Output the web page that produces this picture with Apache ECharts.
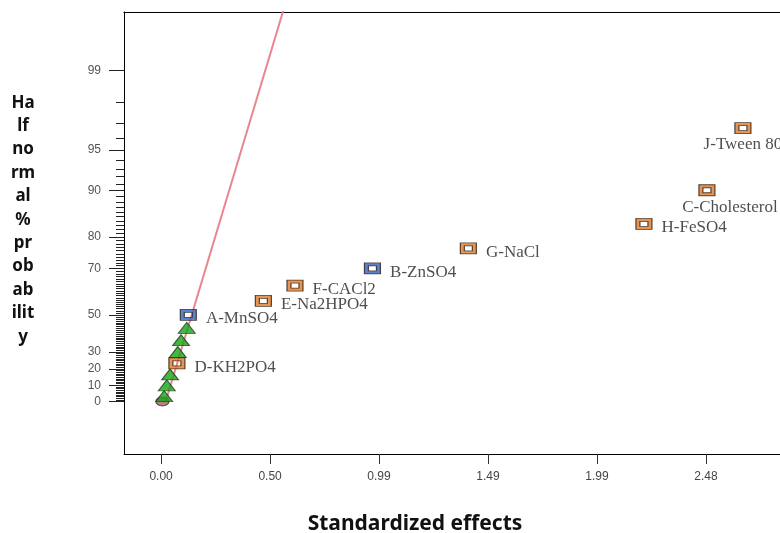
<!DOCTYPE html>
<html>
<head>
<meta charset="utf-8">
<script src="https://cdn.jsdelivr.net/npm/echarts@6/dist/echarts.min.js"></script>
<style>
  html, body { margin: 0; padding: 0; background: #fff; }
  #main { width: 780px; height: 533px; }
</style>
</head>
<body>
<div id="main"></div>
<script>
// 因子（标注点）
var factorNames = ['A-MnSO4', 'D-KH2PO4', 'E-Na2HPO4', 'F-CACl2', 'B-ZnSO4', 'G-NaCl', 'H-FeSO4', 'C-Cholesterol', 'J-Tween 80'];
var factorEffects = [0.124, 0.072, 0.466, 0.610, 0.963, 1.400, 2.200, 2.487, 2.651];
var factorProbs = [50, 23.33, 56.67, 63.33, 70, 76.67, 83.33, 90, 96.67];
var factorSigns = [-1, 1, 1, 1, -1, 1, 1, 1, 1];   // -1 = 蓝色, 1 = 橙色

// 误差项（绿色三角）
var errorEffects = [0.014, 0.026, 0.041, 0.076, 0.091, 0.117];
var errorProbs = [3.33, 10, 16.67, 30, 36.67, 43.33];

// 原点处的圆点
var originEffect = [0.006];
var originProb = [0];

// 参考线 (效应, 概率z)
var refLineEffects = [0.021, 0.60];
var refLineZ = [0, 3.29];

// 刻度
var xTicks = [0, 0.4965, 0.993, 1.4895, 1.986, 2.4825];
var yMajorProbs = [0, 10, 20, 30, 50, 70, 80, 90, 95, 99];

// 正态分布逆函数 (Acklam)
function normInv(p) {
    var a = [-3.969683028665376e+01, 2.209460984245205e+02, -2.759285104469687e+02, 1.383577518672690e+02, -3.066479806614716e+01, 2.506628277459239e+00];
    var b = [-5.447609879822406e+01, 1.615858368580409e+02, -1.556989798598866e+02, 6.680131188771972e+01, -1.328068155288572e+01];
    var c = [-7.784894002430293e-03, -3.223964580411365e-01, -2.400758277161838e+00, -2.549671010259488e+00, 4.374664141464968e+00, 2.938163982698783e+00];
    var d = [7.784695709041462e-03, 3.224671290700398e-01, 2.445134137142996e+00, 3.754408661907416e+00];
    var pl = 0.02425, q, r;
    if (p < pl) {
        q = Math.sqrt(-2 * Math.log(p));
        return (((((c[0]*q+c[1])*q+c[2])*q+c[3])*q+c[4])*q+c[5]) / ((((d[0]*q+d[1])*q+d[2])*q+d[3])*q+1);
    } else if (p <= 1 - pl) {
        q = p - 0.5; r = q * q;
        return (((((a[0]*r+a[1])*r+a[2])*r+a[3])*r+a[4])*r+a[5])*q / (((((b[0]*r+b[1])*r+b[2])*r+b[3])*r+b[4])*r+1);
    }
    q = Math.sqrt(-2 * Math.log(1 - p));
    return -(((((c[0]*q+c[1])*q+c[2])*q+c[3])*q+c[4])*q+c[5]) / ((((d[0]*q+d[1])*q+d[2])*q+d[3])*q+1);
}
// 半正态概率(%) -> z
function halfZ(pct) {
    if (pct <= 0) return 0;
    return normInv((1 + pct / 100) / 2);
}

var yMajorZ = yMajorProbs.map(halfZ);
var yMinorZ = [];
for (var k = 1; k < 99; k++) {
    if (yMajorProbs.indexOf(k) < 0) yMinorZ.push(halfZ(k));
}

var squarePath = 'path://M0,0H16V11H0Z M4,3V8H12V3Z';
var serifFont = '"Liberation Serif", "DejaVu Serif", serif';

var factorData = factorNames.map(function (name, i) {
    var item = {
        name: name,
        value: [factorEffects[i], halfZ(factorProbs[i])],
        itemStyle: { color: factorSigns[i] < 0 ? '#2f63c4' : '#e07a2a' },
        label: { position: 'right', distance: 9, offset: [0, 4] }
    };
    if (name === 'C-Cholesterol') item.label = { position: 'bottom', distance: 3, offset: [23, 0] };
    if (name === 'J-Tween 80') item.label = { position: 'bottom', distance: 2, offset: [0, 0] };
    return item;
});

var yRange = { min: -0.409, max: 3.033 };

var myChart = echarts.init(document.getElementById('main'));
var option = {
    animation: false,
    backgroundColor: '#fff',
    grid: {
        left: 124, right: 0, top: 12, bottom: 79,
        outerBoundsMode: 'none'
    },
    xAxis: [{
        type: 'value',
        min: -0.169,
        max: 2.820,
        splitLine: { show: false },
        axisLine: { show: true, onZero: false, lineStyle: { color: '#000', width: 1 } },
        axisTick: { show: true, customValues: xTicks, length: 10, lineStyle: { color: '#333' } },
        axisLabel: {
            customValues: xTicks, margin: 17, color: '#444', fontSize: 12,
            fontFamily: '"Liberation Sans", Arial, sans-serif',
            formatter: function (v) { return v.toFixed(2); }
        }
    }, {
        // 顶部边框
        type: 'value',
        position: 'top',
        min: -0.169,
        max: 2.820,
        splitLine: { show: false },
        axisLine: { show: true, onZero: false, lineStyle: { color: '#000', width: 1 } },
        axisTick: { show: false },
        axisLabel: { show: false }
    }],
    yAxis: [{
        type: 'value',
        min: yRange.min,
        max: yRange.max,
        splitLine: { show: false },
        axisLine: { show: true, onZero: false, lineStyle: { color: '#000', width: 1 } },
        axisTick: { show: true, customValues: yMajorZ, length: 15, lineStyle: { color: '#222' } },
        axisLabel: {
            customValues: yMajorZ, margin: 23, color: '#555', fontSize: 12,
            fontFamily: '"Liberation Sans", Arial, sans-serif',
            formatter: function (v) {
                var best = 0;
                for (var i = 0; i < yMajorZ.length; i++) {
                    if (Math.abs(yMajorZ[i] - v) < Math.abs(yMajorZ[best] - v)) best = i;
                }
                return String(yMajorProbs[best]);
            }
        }
    }, {
        // 次刻度
        type: 'value',
        position: 'left',
        min: yRange.min,
        max: yRange.max,
        splitLine: { show: false },
        axisLine: { show: false, onZero: false },
        axisTick: { show: true, customValues: yMinorZ, length: 8, lineStyle: { color: '#222' } },
        axisLabel: { show: false }
    }],
    graphic: [{
        type: 'text',
        x: 23,
        y: 91,
        style: {
            text: 'Ha\nlf\nno\nrm\nal\n%\npr\nob\nab\nilit\ny',
            font: 'bold 17px "Noto Sans", "Open Sans", sans-serif',
            fill: '#111',
            align: 'center',
            verticalAlign: 'top',
            lineHeight: 23.4
        }
    }, {
        type: 'text',
        x: 415,
        y: 524,
        style: {
            text: 'Standardized effects',
            font: 'bold 21px "Noto Sans", "Open Sans", sans-serif',
            fill: '#111',
            align: 'center',
            verticalAlign: 'middle'
        }
    }],
    series: [{
        name: 'line',
        type: 'line',
        data: refLineEffects.map(function (x, i) { return [x, refLineZ[i]]; }),
        symbol: 'none',
        lineStyle: { color: '#e8868d', width: 2 },
        clip: true,
        z: 1
    }, {
        name: 'origin',
        type: 'scatter',
        data: originEffect.map(function (x, i) { return [x, halfZ(originProb[i])]; }),
        symbol: 'circle',
        symbolSize: [13, 9],
        itemStyle: { color: '#a0605a', borderColor: '#4a2a2a', borderWidth: 1 },
        z: 2
    }, {
        name: 'error',
        type: 'scatter',
        data: errorEffects.map(function (x, i) { return [x, halfZ(errorProbs[i])]; }),
        symbol: 'triangle',
        symbolSize: [17, 11],
        itemStyle: { color: '#17a317', borderColor: '#1f3a1f', borderWidth: 1 },
        z: 3
    }, {
        name: 'factors',
        type: 'scatter',
        data: factorData,
        symbol: squarePath,
        symbolSize: [16, 11],
        itemStyle: { borderColor: '#2a1e14', borderWidth: 1 },
        label: {
            show: true,
            formatter: '{b}',
            color: '#222',
            fontSize: 17,
            fontFamily: serifFont
        },
        z: 4
    }]
};
myChart.setOption(option);
</script>
</body>
</html>
